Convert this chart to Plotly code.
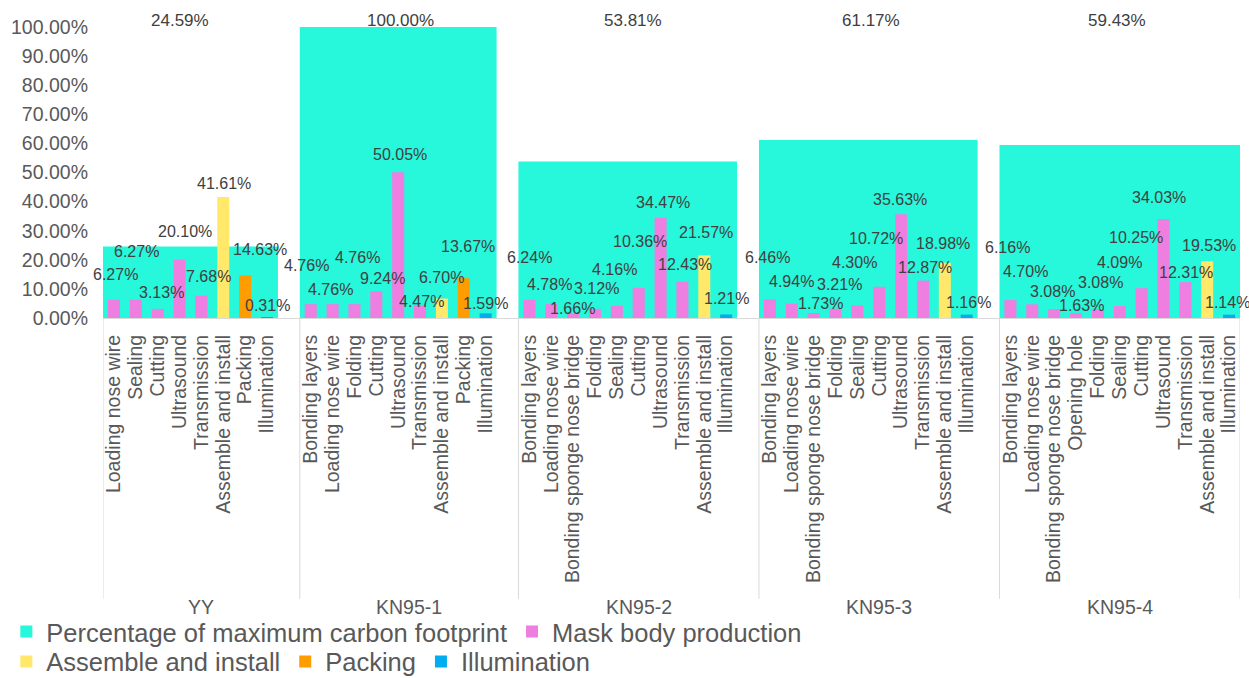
import plotly.graph_objects as go

# ---------------- data ----------------
groups = ["YY", "KN95-1", "KN95-2", "KN95-3", "KN95-4"]
max_footprint_pct = [24.59, 100.00, 53.81, 61.17, 59.43]

yy_steps = ["Loading nose wire", "Sealing", "Cutting", "Ultrasound", "Transmission",
            "Assemble and install", "Packing", "Illumination"]
yy_vals = [6.27, 6.27, 3.13, 20.10, 7.68, 41.61, 14.63, 0.31]

kn1_steps = ["Bonding layers", "Loading nose wire", "Folding", "Cutting", "Ultrasound",
             "Transmission", "Assemble and install", "Packing", "Illumination"]
kn1_vals = [4.76, 4.76, 4.76, 9.24, 50.05, 4.47, 6.70, 13.67, 1.59]

kn2_steps = ["Bonding layers", "Loading nose wire", "Bonding sponge nose bridge", "Folding",
             "Sealing", "Cutting", "Ultrasound", "Transmission", "Assemble and install",
             "Illumination"]
kn2_vals = [6.24, 4.78, 1.66, 3.12, 4.16, 10.36, 34.47, 12.43, 21.57, 1.21]

kn3_steps = ["Bonding layers", "Loading nose wire", "Bonding sponge nose bridge", "Folding",
             "Sealing", "Cutting", "Ultrasound", "Transmission", "Assemble and install",
             "Illumination"]
kn3_vals = [6.46, 4.94, 1.73, 3.21, 4.30, 10.72, 35.63, 12.87, 18.98, 1.16]

kn4_steps = ["Bonding layers", "Loading nose wire", "Bonding sponge nose bridge", "Opening hole",
             "Folding", "Sealing", "Cutting", "Ultrasound", "Transmission",
             "Assemble and install", "Illumination"]
kn4_vals = [6.16, 4.70, 3.08, 1.63, 3.08, 4.09, 10.25, 34.03, 12.31, 19.53, 1.14]

group_steps = [yy_steps, kn1_steps, kn2_steps, kn3_steps, kn4_steps]
group_vals = [yy_vals, kn1_vals, kn2_vals, kn3_vals, kn4_vals]
blank_category_after = [True, True, True, True, False]

series_names = ["Mask body production", "Assemble and install", "Packing", "Illumination"]

# ---------------- style ----------------
FONT = "Liberation Sans, Arial, sans-serif"
C_TEAL = "#27F7DA"
SERIES_COLORS = {
    "Mask body production": "#EE7FE0",
    "Assemble and install": "#FFE86A",
    "Packing": "#FF9C00",
    "Illumination": "#00AEEF",
}
AXIS_GREY = "#D9D9D9"
TICK_COLOR = "#595959"
LABEL_COLOR = "#404040"

# label nudges in pixels (dx, dy above bar top), per group
label_nudges = [
    [(2, 25), (1, 48), (4, 16), (5, 28), (7, 19), (1, 13), (15, 26), (1, 12)],
    [(-4, 39), (-2, 15), (3, 47), (6, 13), (2, 18), (1, 3), (0, 21), (4, 32), (0, 10)],
    [(0, 42), (-2, 20), (-1, 5), (2, 20), (-2, 36), (1, 46), (2, 15), (3, 17), (2, 23), (0, 16)],
    [(-2, 42), (0, 22), (7, 9), (4, 24), (-3, 43), (-3, 48), (-1, 15), (2, 13), (-2, 19), (2, 12)],
    [(-3, 53), (-7, 33), (-2, 18), (5, 8), (3, 27), (0, 44), (-6, 51), (-4, 21), (1, 10), (2, 16), (-2, 12)],
]
top_label_dx = [-10, 2, 5, 3, -3]

# ---------------- category positions ----------------
tick_pos, tick_text = [], []
group_start, group_end = [], []
pos = 0
for steps, blank in zip(group_steps, blank_category_after):
    group_start.append(pos)
    for s in steps:
        tick_pos.append(pos)
        tick_text.append(s)
        pos += 1
    if blank:
        tick_pos.append(pos)
        tick_text.append("")
        pos += 1
    group_end.append(pos)
n_slots = pos


def series_of(step):
    return step if step in series_names[1:] else series_names[0]


fig = go.Figure()

# background: percentage of maximum carbon footprint, spanning each group's steps
teal_x = [group_start[g] + (len(group_steps[g]) - 1) / 2 for g in range(len(groups))]
teal_w = [len(group_steps[g]) for g in range(len(groups))]
fig.add_trace(go.Bar(
    x=teal_x, y=max_footprint_pct, width=teal_w,
    name="Percentage of maximum carbon footprint",
    marker=dict(color=C_TEAL, line=dict(width=0)),
    legend="legend", hoverinfo="skip",
))

for sname in series_names:
    xs, ys = [], []
    for g, (steps, vals) in enumerate(zip(group_steps, group_vals)):
        for i, (s, v) in enumerate(zip(steps, vals)):
            if series_of(s) == sname:
                xs.append(group_start[g] + i)
                ys.append(v)
    fig.add_trace(go.Bar(
        x=xs, y=ys, width=0.55, name=sname,
        marker=dict(color=SERIES_COLORS[sname], line=dict(width=0)),
        legend="legend" if sname == series_names[0] else "legend2",
    ))

annotations = []
for g, (steps, vals) in enumerate(zip(group_steps, group_vals)):
    for i, v in enumerate(vals):
        dx, dy = label_nudges[g][i]
        annotations.append(dict(
            x=group_start[g] + i, y=v, xref="x", yref="y",
            text=f"{v:.2f}%", showarrow=False, xanchor="center", yanchor="middle",
            xshift=dx, yshift=dy, font=dict(family=FONT, size=16, color=LABEL_COLOR),
        ))
    annotations.append(dict(
        x=teal_x[g], y=1, xref="x", yref="paper",
        text=f"{max_footprint_pct[g]:.2f}%", showarrow=False,
        xanchor="center", yanchor="middle", xshift=top_label_dx[g], yshift=7,
        font=dict(family=FONT, size=17, color=LABEL_COLOR),
    ))
    annotations.append(dict(
        x=(group_start[g] + group_end[g] - 1) / 2, y=-0.993, xref="x", yref="paper",
        text=groups[g], showarrow=False, xanchor="center", yanchor="middle",
        font=dict(family=FONT, size=19.5, color=TICK_COLOR),
    ))

shapes = []
for b in [group_start[0]] + group_end:
    shapes.append(dict(
        type="line", xref="x", yref="paper", x0=b - 0.5, x1=b - 0.5, y0=0, y1=-0.965,
        line=dict(color=AXIS_GREY, width=1),
    ))

legend_font = dict(family=FONT, size=25.5, color=TICK_COLOR)

fig.update_layout(
    width=1249, height=678,
    margin=dict(l=103, r=9, t=27, b=360, autoexpand=False),
    paper_bgcolor="white", plot_bgcolor="white",
    barmode="overlay",
    font=dict(family=FONT, color=TICK_COLOR),
    xaxis=dict(
        range=[-0.5, n_slots - 0.5], tickmode="array", tickvals=tick_pos, ticktext=tick_text,
        tickangle=-90, tickfont=dict(family=FONT, size=19.5, color=TICK_COLOR),
        showgrid=False, zeroline=False, showline=True, linecolor=AXIS_GREY, linewidth=1,
        ticks="", ticklabelstandoff=8, automargin=False, fixedrange=True,
    ),
    yaxis=dict(
        range=[0, 100], dtick=10, tick0=0, tickformat=".2f", ticksuffix="%",
        tickfont=dict(family=FONT, size=19.5, color=TICK_COLOR),
        showgrid=False, zeroline=False, showline=False, ticks="",
        ticklabelstandoff=14, automargin=False, fixedrange=True,
    ),
    legend=dict(
        orientation="h", x=-0.085, y=-1.079, xanchor="left", yanchor="middle",
        font=legend_font, bgcolor="rgba(0,0,0,0)",
        itemclick=False, itemdoubleclick=False,
    ),
    legend2=dict(
        orientation="h", x=-0.085, y=-1.182, xanchor="left", yanchor="middle",
        font=legend_font, bgcolor="rgba(0,0,0,0)",
        itemclick=False, itemdoubleclick=False,
    ),
    annotations=annotations,
    shapes=shapes,
    showlegend=True,
)

fig.write_html("out.html", config={"displayModeBar": False})
